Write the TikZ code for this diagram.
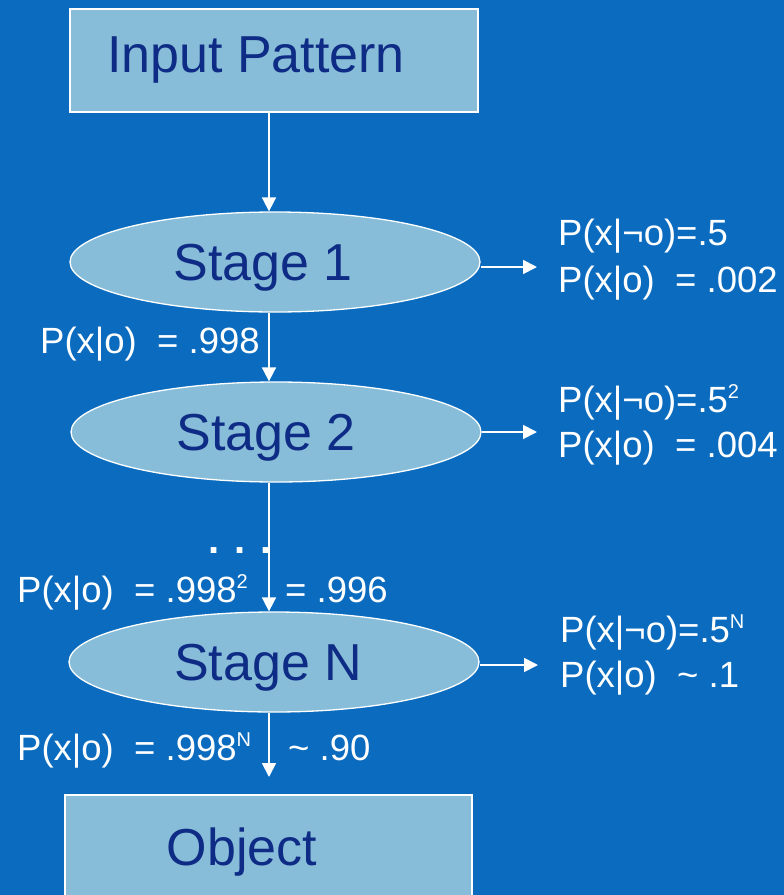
\documentclass[tikz,border=0pt]{standalone}
\usepackage{fontspec}
\setmainfont{Liberation Sans}
\usetikzlibrary{shapes.geometric,arrows.meta}
\definecolor{bg}{RGB}{10,107,191}
\definecolor{boxfill}{RGB}{135,189,216}
\definecolor{dtext}{RGB}{14,44,133}
\newcommand{\supr}[1]{\raisebox{0.72ex}{\fontsize{20}{20}\selectfont #1}}
\tikzset{
  boxnode/.style={draw=white,line width=1.5pt,fill=boxfill,rectangle,inner sep=0pt},
  stagenode/.style={draw=white,line width=1.3pt,fill=boxfill,ellipse,inner sep=0pt,minimum width=410pt,minimum height=100pt},
  bigtext/.style={font=\fontsize{52}{60}\selectfont,text=dtext,anchor=base,inner sep=0pt},
  lbl/.style={font=\fontsize{36.5}{42}\selectfont,text=white,anchor=base west,inner sep=0pt},
  arr/.style={draw=white,line width=1.8pt,-{Triangle[length=14pt,width=14pt]}}
}
\begin{document}
\begin{tikzpicture}[x=1pt,y=-1pt]
\useasboundingbox (0,0) rectangle (784,895);
\clip (0,0) rectangle (784,895);
\fill[bg] (0,0) rectangle (784,895);
% boxes and ellipses
\node[boxnode,minimum width=408pt,minimum height=103pt] (in) at (274,60.5) {};
\node[stagenode] (s1) at (275,262) {};
\node[stagenode] (s2) at (276,432) {};
\node[stagenode] (sn) at (274,662) {};
\node[boxnode,minimum width=407pt,minimum height=120pt] (ob) at (268.5,855) {};
% their texts
\node[bigtext] (int) at (256,72) {Input Pattern};
\node[bigtext] (s1t) at (263,280) {Stage 1};
\node[bigtext] (s2t) at (266,450) {Stage 2};
\node[bigtext] (snt) at (268,680) {Stage N};
\node[bigtext] (obt) at (242,865) {Object};
% helper coordinates
\coordinate (v) at (269,0);
\coordinate (oe) at (269,777);
\coordinate (a1) at (537,267);
\coordinate (a2) at (537,432);
\coordinate (a3) at (538,665);
% vertical arrows
\draw[arr] (in.south -| v) -- (s1.north -| v);
\draw[arr] (s1.south -| v) -- (s2.north -| v);
\draw[arr] (s2.south -| v) -- (sn.north -| v);
\draw[arr] (sn.south -| v) -- (oe);
% right arrows
\draw[arr] (s1.east |- a1) -- (a1);
\draw[arr] (s2.east |- a2) -- (a2);
\draw[arr] (sn.east |- a3) -- (a3);
% right labels
\node[lbl] (r1a) at (558,245) {P(x|¬o)=.5};
\node[lbl] (r1b) at (558,292) {P(x|o)\ \ = .002};
\node[lbl] (r2a) at (558,412) {P(x|¬o)=.5\supr{2}};
\node[lbl] (r2b) at (558,457) {P(x|o)\ \ = .004};
\node[lbl] (r3a) at (560,642) {P(x|¬o)=.5\supr{N}};
\node[lbl] (r3b) at (560,687) {P(x|o)\ \ \textasciitilde\ .1};
% left labels
\node[lbl] (l1) at (40,353) {P(x|o)\ \ = .998};
\node[lbl,font=\fontsize{40}{40}\selectfont\bfseries] (dots) at (208,553) {. . .};
\node[lbl] (l2) at (17,602) {P(x|o)\ \ = .998\supr{2}};
\node[lbl] (l2b) at (285,602) {= .996};
\node[lbl] (l3) at (17,760) {P(x|o)\ \ = .998\supr{N}};
\node[lbl] (l3b) at (288,760) {\textasciitilde\ .90};
\end{tikzpicture}
\end{document}
